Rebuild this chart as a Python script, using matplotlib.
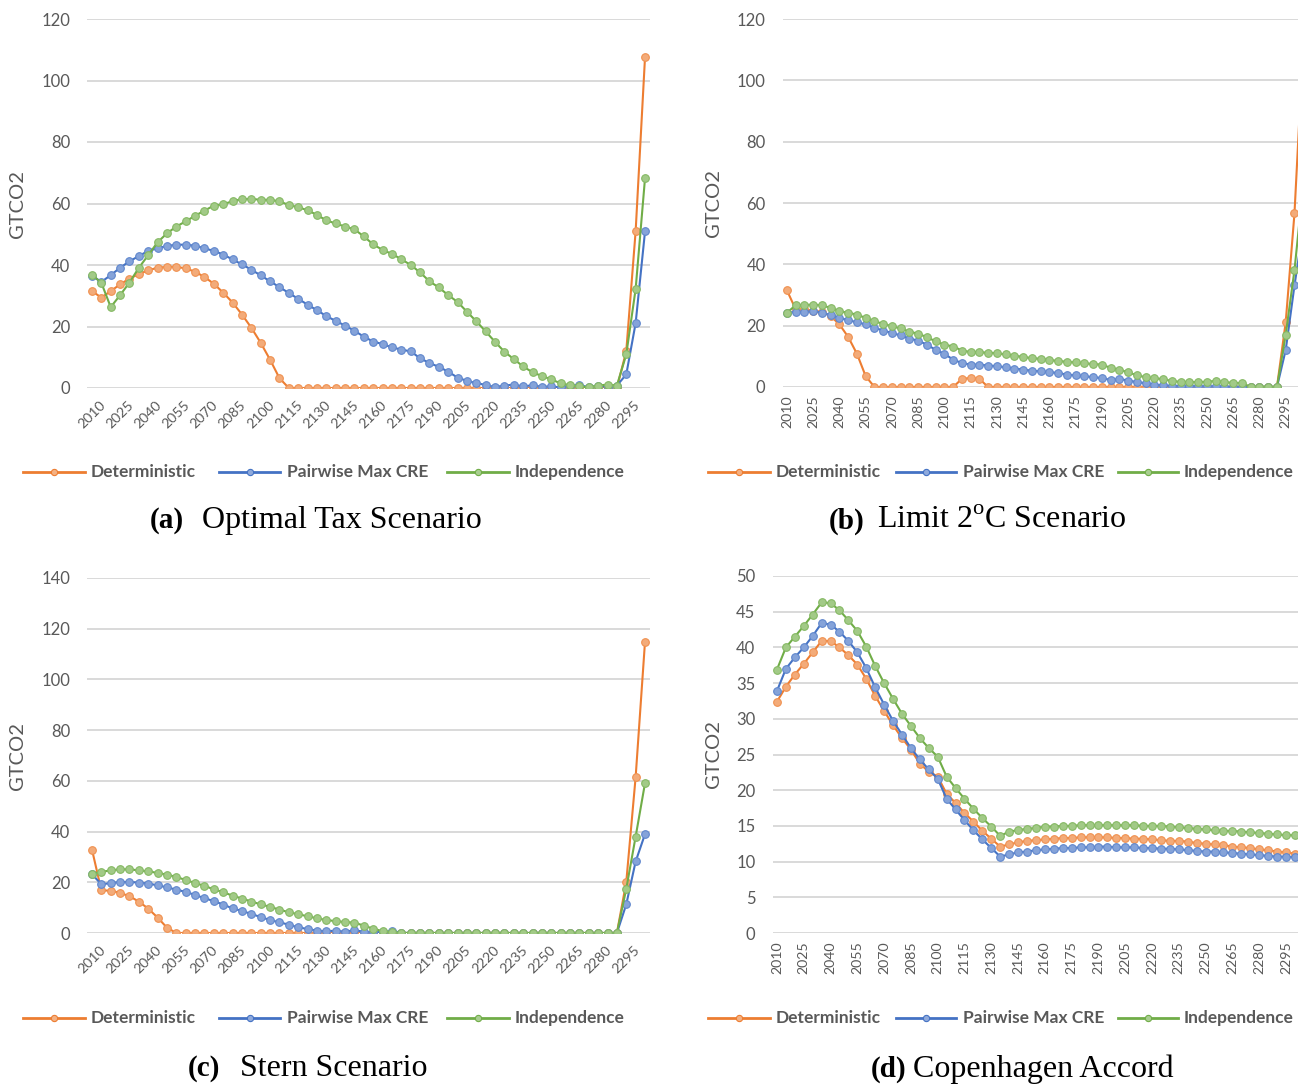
import numpy as np
import matplotlib.pyplot as plt
from matplotlib.lines import Line2D
from matplotlib.colors import to_rgb

plt.rcParams['font.family'] = ['Lato', 'DejaVu Sans']
plt.rcParams['mathtext.fontset'] = 'custom'
plt.rcParams['mathtext.rm'] = 'Liberation Serif'

W, H = 1298, 1086

# categories: every 5 years, label every 3rd
years = [2010, 2015, 2020, 2025, 2030, 2035, 2040, 2045, 2050, 2055,
         2060, 2065, 2070, 2075, 2080, 2085, 2090, 2095, 2100, 2105,
         2110, 2115, 2120, 2125, 2130, 2135, 2140, 2145, 2150, 2155,
         2160, 2165, 2170, 2175, 2180, 2185, 2190, 2195, 2200, 2205,
         2210, 2215, 2220, 2225, 2230, 2235, 2240, 2245, 2250, 2255,
         2260, 2265, 2270, 2275, 2280, 2285, 2290, 2295, 2300, 2305]

series_names = ['Deterministic', 'Pairwise Max CRE', 'Independence']

# (a) optimal tax
tax_det = [31.5, 29.4, 31.5, 33.7, 35.6, 37.0, 38.3, 39.1, 39.4, 39.4,
           38.9, 37.8, 36.1, 33.9, 31.0, 27.8, 23.9, 19.6, 14.7, 9.2,
           3.2, 0, 0, 0, 0, 0, 0, 0, 0, 0,
           0, 0, 0, 0, 0, 0, 0, 0, 0, 0,
           0, 0, 0, 0, 0, 0, 0, 0, 0, 0,
           0, 0, 0, 0, 0, 0, 0, 12.0, 51.0, 107.5]
tax_cre = [36.5, 34.5, 36.7, 39.1, 41.2, 42.9, 44.6, 45.4, 46.2, 46.6,
           46.6, 46.3, 45.4, 44.6, 43.4, 41.8, 40.2, 38.5, 36.6, 34.7,
           32.8, 30.9, 29.0, 27.1, 25.3, 23.4, 21.8, 20.3, 18.6, 16.7,
           15.1, 14.3, 13.2, 12.5, 11.9, 9.7, 8.1, 6.9, 5.3, 3.4,
           2.3, 1.6, 1.0, 0.3, 0.8, 1.1, 0.5, 0.9, 0.4, 0.5,
           0.2, 0.8, 1.0, 0.2, 0.8, 0.4, 0.8, 4.4, 21.1, 50.9]
tax_ind = [36.8, 34.2, 26.3, 30.2, 34.3, 39.1, 43.2, 47.4, 50.3, 52.5,
           54.2, 56.0, 57.7, 59.3, 59.7, 60.8, 61.4, 61.5, 61.2, 61.2,
           60.7, 59.5, 58.8, 57.8, 56.3, 54.5, 53.5, 52.5, 51.6, 49.3,
           46.7, 44.9, 43.6, 41.9, 40.0, 37.6, 34.7, 32.7, 30.2, 28.0,
           24.8, 21.7, 18.4, 15.0, 11.8, 9.4, 7.0, 5.1, 3.9, 2.8,
           1.5, 0.9, 0.5, 0.2, 0.8, 1.1, 0.8, 10.9, 32.2, 68.2]

# (b) limit 2C
lim2_det = [31.5, 25.3, 25.3, 24.9, 24.5, 23.1, 20.4, 16.3, 10.8, 3.5,
            0, 0, 0, 0, 0, 0, 0, 0, 0, 0,
            2.7, 2.9, 2.6, 0, 0, 0, 0, 0, 0, 0,
            0, 0, 0, 0, 0, 0, 0, 0, 0, 0,
            0, 0, 0, 0, 0, 0, 0, 0, 0, 0,
            0, 0, 0, 0, 0, 0, 0, 21.2, 56.6, 112.0]
lim2_cre = [24.2, 24.5, 24.5, 24.7, 24.2, 23.4, 22.5, 21.8, 21.1, 20.4,
            19.3, 18.4, 17.6, 16.8, 15.8, 15.1, 13.8, 12.1, 10.8, 8.9,
            7.8, 7.3, 7.3, 7.0, 6.8, 6.4, 6.0, 5.7, 5.3, 5.1,
            4.8, 4.6, 4.0, 3.8, 3.5, 3.2, 2.9, 2.3, 2.6, 2.1,
            1.6, 1.2, 0.8, 0.5, 0.4, 0.3, 0.3, 0.2, 0.2, 0.2,
            0.1, 0.1, 0, 0, 0, 0, 0, 12.1, 33.1, 52.0]
lim2_ind = [24.2, 26.7, 26.7, 26.9, 26.6, 25.8, 24.7, 24.2, 23.6, 22.5,
            21.4, 20.6, 19.8, 19.1, 18.0, 17.4, 16.2, 14.9, 13.8, 13.2,
            11.9, 11.4, 11.3, 11.2, 11.0, 10.6, 10.2, 9.8, 9.4, 9.2,
            8.8, 8.5, 8.2, 8.0, 7.7, 7.5, 7.3, 6.2, 5.6, 4.8,
            3.8, 3.2, 2.8, 2.6, 1.9, 1.7, 1.6, 1.6, 1.7, 2.0,
            1.5, 1.4, 1.2, 0.1, 0.1, 0.1, 0, 17.1, 38.1, 66.0]

# (c) stern
stern_det = [32.9, 16.8, 16.7, 15.8, 14.5, 12.4, 9.6, 6.1, 2.1, 0,
             0, 0, 0, 0, 0, 0, 0, 0, 0, 0,
             0, 0, 0, 0, 0, 0, 0, 0, 0, 0,
             0, 0, 0, 0, 0, 0, 0, 0, 0, 0,
             0, 0, 0, 0, 0, 0, 0, 0, 0, 0,
             0, 0, 0, 0, 0, 0, 0, 20.1, 61.5, 114.9]
stern_cre = [23.2, 19.2, 19.7, 20.1, 20.1, 19.9, 19.5, 18.8, 18.0, 17.1,
             16.2, 15.0, 13.7, 12.6, 11.2, 9.7, 8.7, 7.5, 6.3, 5.1,
             4.2, 3.3, 2.2, 1.6, 0.9, 0.7, 0.9, 0.5, 1.1, 0.5,
             0.3, 0.4, 0.8, 0.1, 0, 0, 0, 0, 0, 0,
             0, 0, 0, 0, 0, 0, 0, 0, 0, 0,
             0, 0, 0, 0, 0, 0, 0, 11.3, 28.2, 39.0]
stern_ind = [23.2, 24.1, 24.7, 25.1, 25.1, 24.7, 24.3, 23.7, 23.0, 22.1,
             20.9, 19.7, 18.6, 17.2, 16.1, 14.7, 13.6, 12.4, 11.3, 10.3,
             9.2, 8.2, 7.4, 6.6, 5.8, 5.1, 4.7, 4.3, 4.1, 2.9,
             1.7, 0.7, 0.3, 0, 0, 0, 0, 0, 0, 0,
             0, 0, 0, 0, 0, 0, 0, 0, 0, 0,
             0, 0, 0, 0, 0, 0, 0, 17.4, 38.0, 59.1]

# (d) copenhagen
cop_det = [32.4, 34.5, 36.2, 37.7, 39.3, 40.9, 40.9, 40.0, 38.9, 37.6,
           35.6, 33.2, 31.1, 29.1, 27.3, 25.7, 23.7, 22.6, 21.9, 19.5,
           18.2, 16.8, 15.6, 14.3, 13.2, 12.1, 12.4, 12.7, 12.9, 13.0,
           13.1, 13.2, 13.3, 13.3, 13.4, 13.4, 13.4, 13.4, 13.3, 13.3,
           13.2, 13.2, 13.1, 13.0, 12.9, 12.9, 12.8, 12.6, 12.5, 12.4,
           12.3, 12.1, 12.0, 11.9, 11.7, 11.6, 11.4, 11.3, 11.1, 11.0]
cop_cre = [33.9, 37.0, 38.6, 40.0, 41.6, 43.4, 43.2, 42.2, 40.9, 39.3,
           37.1, 34.4, 32.0, 29.7, 27.8, 25.9, 24.3, 22.9, 21.6, 18.8,
           17.3, 15.8, 14.4, 13.1, 11.9, 10.7, 11.0, 11.3, 11.4, 11.6,
           11.7, 11.8, 11.9, 11.9, 12.0, 12.0, 12.1, 12.1, 12.0, 12.0,
           12.0, 11.9, 11.9, 11.8, 11.8, 11.7, 11.6, 11.5, 11.4, 11.4,
           11.3, 11.2, 11.1, 11.0, 10.9, 10.8, 10.7, 10.7, 10.6, 10.5]
cop_ind = [36.9, 40.0, 41.5, 43.0, 44.6, 46.3, 46.2, 45.2, 43.8, 42.3,
           40.1, 37.4, 35.0, 32.8, 30.7, 29.0, 27.3, 25.9, 24.7, 21.9,
           20.3, 18.8, 17.4, 16.1, 14.9, 13.6, 14.2, 14.4, 14.6, 14.7,
           14.9, 14.9, 15.0, 15.0, 15.1, 15.1, 15.1, 15.1, 15.1, 15.1,
           15.1, 15.0, 15.0, 15.0, 14.9, 14.8, 14.7, 14.6, 14.5, 14.4,
           14.3, 14.3, 14.2, 14.1, 14.0, 13.9, 13.8, 13.7, 13.7, 13.6]

colors = ['#ED7D31', '#4472C4', '#70AD47']
txt_gray = '#595959'
grid_gray = '#D9D9D9'


def lighten(c, f):
    r = np.array(to_rgb(c))
    return tuple(r + (1 - r) * f)


fig = plt.figure(figsize=(W / 100, H / 100), dpi=100)


def add_panel(left, right, top, bottom, ymax, ystep, data, rot, ylab_x):
    ax = fig.add_axes([left / W, 1 - bottom / H, (right - left) / W, (bottom - top) / H])
    x = np.arange(len(years))
    for vals, c in zip(data, colors):
        ax.plot(x, vals, color=c, lw=1.5, marker='o', ms=5.5,
                mfc=lighten(c, 0.35), mec=lighten(c, 0.15), mew=0.8)
    ax.set_xlim(-0.5, len(years) - 0.5)
    ax.set_ylim(0, ymax)
    ax.set_yticks(np.arange(0, ymax + 1, ystep))
    ax.yaxis.grid(True, color=grid_gray, lw=1.4)
    ax.set_axisbelow(True)
    for s in ax.spines.values():
        s.set_visible(False)
    ax.set_xticks(x[::3])
    if rot == 45:
        ax.set_xticklabels([str(y) for y in years[::3]], rotation=45, ha='center',
                           va='center', rotation_mode='anchor')
        ax.tick_params(axis='x', length=0, pad=19.4, labelsize=10.2, labelcolor=txt_gray)
    else:
        ax.set_xticklabels([str(y) for y in years[::3]], rotation=90, ha='center', va='top')
        ax.tick_params(axis='x', length=0, pad=5.8, labelsize=10.2, labelcolor=txt_gray)
    ax.tick_params(axis='y', length=0, pad=12.3, labelsize=12, labelcolor=txt_gray)
    ax.set_ylabel('GTCO2', fontsize=14.5, color=txt_gray)
    ax.yaxis.label.set_va('center')
    ax.yaxis.set_label_coords((ylab_x - left) / (right - left), 0.5)
    return ax


def add_legend(y, line_xs, text_xs):
    yf = 1 - y / H
    for (x0, x1), tx, name, c in zip(line_xs, text_xs, series_names, colors):
        fig.add_artist(Line2D([x0 / W, x1 / W], [yf, yf], color=c, lw=2.0,
                              transform=fig.transFigure))
        fig.add_artist(Line2D([(x0 + x1) / 2 / W], [yf], marker='o', ms=4.5,
                              mfc=lighten(c, 0.4), mec=c, mew=0.8,
                              transform=fig.transFigure))
        fig.text(tx / W, yf, name, ha='left', va='center', fontsize=12.5,
                 fontweight='bold', color=txt_gray)


def add_caption(y, tag_x, tag, title_x, title):
    yf = 1 - y / H
    fig.text(tag_x / W, yf, tag, ha='left', va='center', fontsize=21,
             fontweight='bold', family='Liberation Serif')
    fig.text(title_x / W, yf, title, ha='left', va='center', fontsize=23,
             family='Liberation Serif')


add_panel(87.3, 649.7, 19, 388, 120, 20, [tax_det, tax_cre, tax_ind], 45, 18)
add_panel(782.6, 1307.6, 19, 387, 120, 20, [lim2_det, lim2_cre, lim2_ind], 90, 713)
add_panel(87.3, 649.7, 578, 933, 140, 20, [stern_det, stern_cre, stern_ind], 45, 18)
add_panel(772.5, 1308.3, 576, 933, 50, 5, [cop_det, cop_cre, cop_ind], 90, 714)

left_lines = [(23, 85), (219, 280), (447, 509)]
left_texts = [91, 287, 515]
right_lines = [(708, 770), (896, 956), (1118, 1178)]
right_texts = [776, 963, 1184]
add_legend(472, left_lines, left_texts)
add_legend(472, right_lines, right_texts)
add_legend(1018, left_lines, left_texts)
add_legend(1018, right_lines, right_texts)

add_caption(521, 150, '(a)', 202, 'Optimal Tax Scenario')
add_caption(521, 829, '(b)', 877, 'Limit 2$^{\\mathrm{o}}$C Scenario')
add_caption(1069, 188, '(c)', 240, 'Stern Scenario')
add_caption(1069, 871, '(d)', 913, 'Copenhagen Accord')

fig.savefig('out.png', dpi=100)
